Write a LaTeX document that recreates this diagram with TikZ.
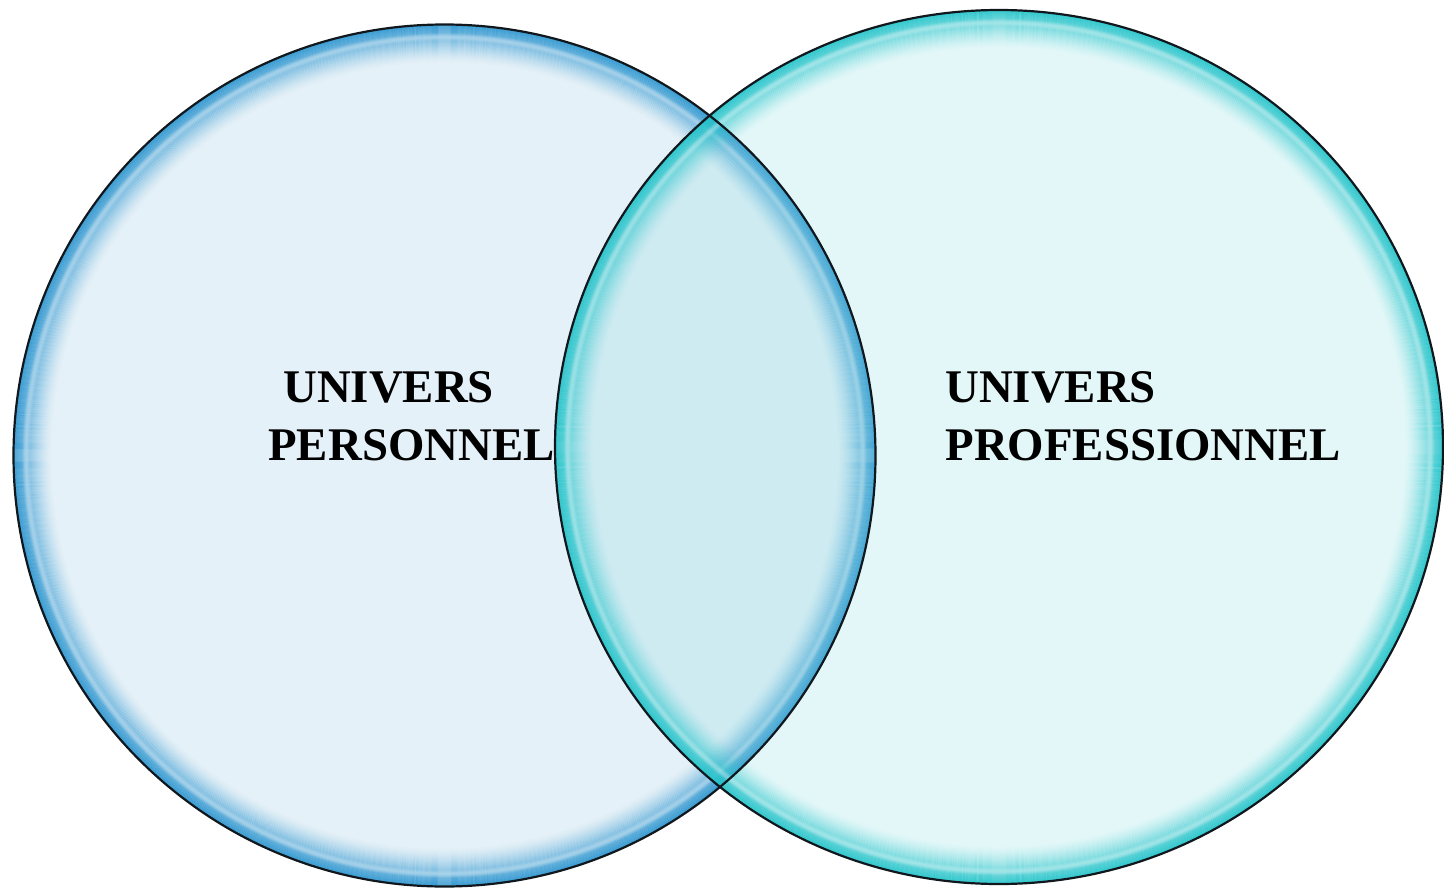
\documentclass[tikz,border=0pt]{standalone}
\usepackage{fontspec}
\setmainfont{Liberation Serif}
\definecolor{leftFill}{RGB}{229,241,248}
\definecolor{leftRim}{RGB}{45,150,208}
\definecolor{rightFill}{RGB}{115,215,220}
\definecolor{rightRim}{RGB}{35,196,202}
\definecolor{edge}{RGB}{16,24,30}
\begin{document}
\begin{tikzpicture}[x=0.5pt,y=-0.5pt,
  label/.style={inner sep=0pt,anchor=base west,font=\fontsize{23.4}{28}\selectfont\bfseries,text=black},
  outline/.style={draw=edge,line width=1.1pt}]
\useasboundingbox (0,0) rectangle (1444,888);
\coordinate (cl) at (444.5,455.5);
\coordinate (cr) at (999,447);
% left circle
\fill[leftFill] (cl) circle [radius=431];
\foreach \k in {0,...,37}{
  \pgfmathsetmacro{\op}{0.85*(1-\k/38)^1.5}
  \draw[draw=leftRim,draw opacity=\op,line width=0.7pt] (cl) circle [radius=431-\k-0.5];
}
\foreach \k/\o in {9/0.08,10/0.15,11/0.22,12/0.25,13/0.22,14/0.15,15/0.08}{
  \draw[draw=white,draw opacity=\o,line width=0.7pt] (cl) circle [radius=431-\k-0.5];
}
% right circle (translucent)
\fill[rightFill,fill opacity=0.2] (cr) ellipse [x radius=444,y radius=437];
\foreach \k in {0,...,37}{
  \pgfmathsetmacro{\op}{0.85*(1-\k/38)^1.5}
  \draw[draw=rightRim,draw opacity=\op,line width=0.7pt] (cr) ellipse [x radius=444-\k-0.5,y radius=437-\k-0.5];
}
\foreach \k/\o in {9/0.08,10/0.15,11/0.22,12/0.25,13/0.22,14/0.15,15/0.08}{
  \draw[draw=white,draw opacity=\o,line width=0.7pt] (cr) ellipse [x radius=444-\k-0.5,y radius=437-\k-0.5];
}
% outlines
\draw[outline] (cl) circle [radius=431];
\draw[outline] (cr) ellipse [x radius=444,y radius=437];
% labels
\node[label] (p1) at (283,402) {UNIVERS};
\node[label] (p2) at (268,460) {PERSONNEL};
\node[label] (q1) at (945,402) {UNIVERS};
\node[label] (q2) at (945,460) {PROFESSIONNEL};
\end{tikzpicture}
\end{document}
